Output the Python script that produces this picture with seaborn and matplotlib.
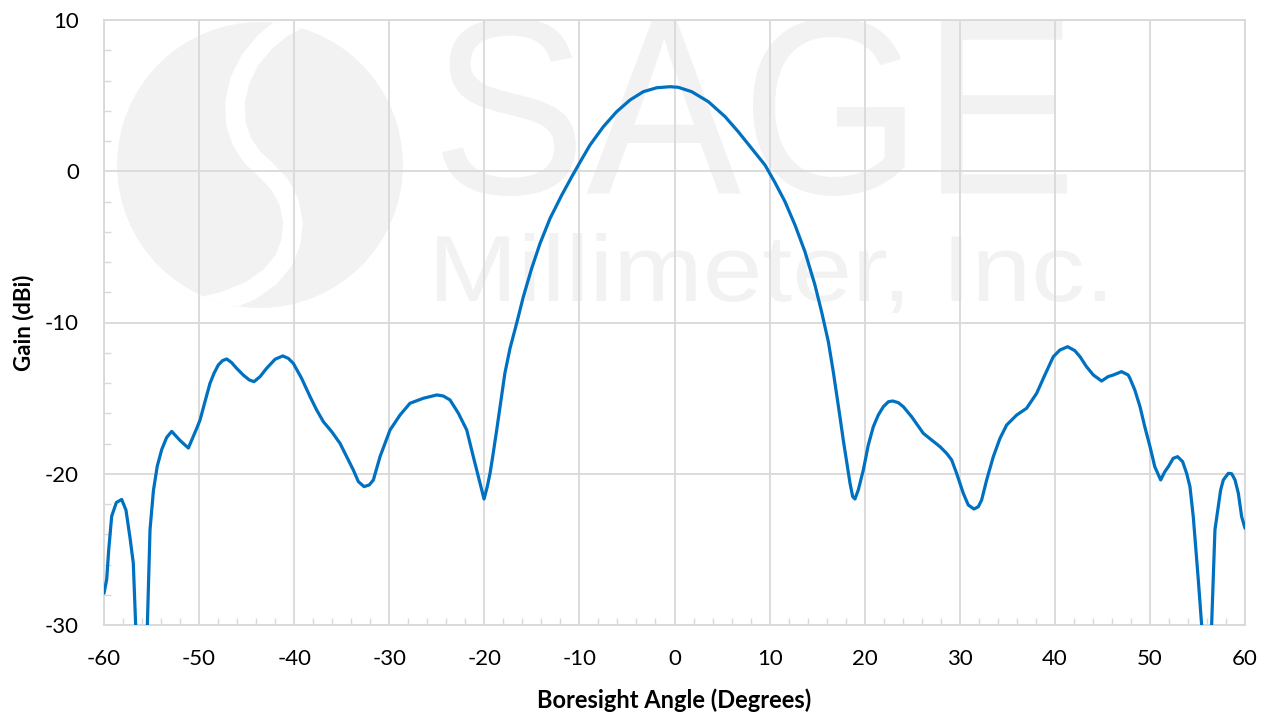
import numpy as np
import pandas as pd
import matplotlib
matplotlib.use("Agg")
import matplotlib.pyplot as plt
import seaborn as sns
import matplotlib.transforms as mtransforms
from matplotlib.patches import Circle, PathPatch
from matplotlib.textpath import TextPath
from matplotlib.font_manager import FontProperties
from matplotlib.ticker import MultipleLocator

# Radiation pattern (degrees, dBi)
angle = [-60.0, -59.72, -59.5, -59.19, -58.7, -58.14, -57.69, -57.27, -56.92, -56.67,
         -56.05, -55.44, -55.16, -54.8, -54.4, -53.93, -53.41, -52.88, -52.0, -51.13,
         -50.25, -49.9, -49.38, -48.85, -48.43, -47.98, -47.53, -47.1, -46.58, -46.05,
         -45.36, -44.72, -44.22, -43.59, -42.9, -42.01, -41.2, -40.62, -40.09, -39.22,
         -38.33, -37.63, -36.93, -36.05, -35.18, -34.48, -33.78, -33.25, -32.65, -32.1,
         -31.67, -30.97, -29.92, -28.87, -27.82, -26.42, -25.0, -24.31, -23.61, -22.73,
         -21.85, -21.16, -20.63, -20.03, -19.69, -19.4, -19.12, -18.7,
         -17.84, -17.3, -16.6, -15.9, -15.02, -14.14, -13.09, -11.86, -10.81, -10.01,
         -8.89, -7.49, -6.08, -4.68, -3.28, -1.87, -0.47, 0.4, 1.81, 3.56,
         5.32, 6.71, 8.12, 9.52, 10.57, 11.62, 12.67, 13.72, 14.77, 15.47,
         16.18, 16.7, 17.4, 17.75, 18.46, 18.74, 18.98, 19.33, 19.86, 20.38,
         20.91, 21.43, 21.96, 22.49, 22.95, 23.54, 24.07, 24.94, 26.17, 27.05,
         27.92, 28.62, 29.15, 29.67, 30.37, 30.9, 31.5, 31.95, 32.3, 32.83,
         33.53, 34.23, 34.93, 35.98, 37.03, 38.09, 38.95, 39.84, 40.53, 41.35,
         42.1, 42.65, 43.33, 44.05, 44.92, 45.6, 46.15, 47.02, 47.71, 47.9,
         48.41, 48.96, 49.46, 50.01, 50.51, 51.13, 51.57, 51.94, 52.45, 52.91,
         53.44, 53.86, 54.21, 54.56, 55.09, 55.44, 55.95, 56.49, 56.84, 57.44,
         57.72, 58.25, 58.6, 58.95, 59.3, 59.65, 60.0]
gain = [-27.9, -27.0, -25.0, -22.8, -21.9, -21.7, -22.4, -24.2, -25.9, -30.0,
        -42.0, -30.0, -23.7, -21.1, -19.5, -18.4, -17.6, -17.2, -17.8, -18.3,
        -17.0, -16.45, -15.23, -14.02, -13.36, -12.81, -12.52, -12.41, -12.65, -13.03,
        -13.47, -13.8, -13.91, -13.58, -13.03, -12.43, -12.21, -12.37, -12.7, -13.69,
        -14.9, -15.79, -16.56, -17.22, -17.99, -18.87, -19.75, -20.52, -20.85, -20.74,
        -20.41, -18.87, -17.11, -16.12, -15.34, -15.01, -14.79, -14.86, -15.12, -16.0,
        -17.11, -18.87, -20.19, -21.67, -20.85, -19.97, -18.87, -17.11,
        -13.36, -11.71, -10.05, -8.3, -6.42, -4.77, -3.12, -1.58, -0.37, 0.52,
        1.73, 2.94, 3.94, 4.71, 5.26, 5.52, 5.59, 5.55, 5.26, 4.6,
        3.61, 2.61, 1.51, 0.41, -0.75, -2.01, -3.55, -5.32, -7.52, -9.29,
        -11.27, -13.26, -16.23, -17.77, -20.63, -21.51, -21.67, -21.07, -19.75, -18.1,
        -16.89, -16.12, -15.57, -15.24, -15.19, -15.3, -15.57, -16.23, -17.33, -17.77,
        -18.21, -18.65, -19.09, -19.97, -21.29, -22.07, -22.33, -22.18, -21.74, -20.41,
        -18.87, -17.66, -16.78, -16.12, -15.67, -14.68, -13.47, -12.26, -11.82, -11.6,
        -11.86, -12.26, -12.92, -13.47, -13.87, -13.58, -13.47, -13.25, -13.47, -13.69,
        -14.46, -15.57, -16.89, -18.21, -19.53, -20.41, -19.86, -19.53, -18.98, -18.87,
        -19.2, -19.97, -20.85, -22.84, -27.03, -30.0, -42.0, -30.0, -23.7, -21.07,
        -20.41, -19.97, -20.0, -20.41, -21.29, -22.84, -23.6]

x_ticks = [-60, -50, -40, -30, -20, -10, 0, 10, 20, 30, 40, 50, 60]
y_ticks = [-30, -20, -10, 0, 10]

sns.set_theme(style="white")
plt.rcParams['font.family'] = ['Lato', 'DejaVu Sans']
plt.rcParams['axes.unicode_minus'] = False

W, H = 1268, 715
GRID = '#d9d9d9'
WM = '#f2f2f2'

fig = plt.figure(figsize=(W / 100, H / 100), dpi=100)
ax = fig.add_axes([104 / W, 1 - 625 / H, (1245 - 104) / W, (625 - 20) / H])

df = pd.DataFrame({'angle': angle, 'gain': gain})
sns.lineplot(data=df, x='angle', y='gain', ax=ax, color='#0070C0', lw=2.3,
             sort=False, zorder=3)
ax.lines[0].set_solid_joinstyle('round')

ax.set_xlim(-60, 60)
ax.set_ylim(-30, 10)
ax.set_xticks(x_ticks)
ax.set_yticks(y_ticks)
ax.xaxis.set_minor_locator(MultipleLocator(2))
ax.yaxis.set_minor_locator(MultipleLocator(2))
ax.grid(True, which='major', color=GRID, lw=1.3)
ax.set_axisbelow(True)
for s in ax.spines.values():
    s.set_color(GRID)
    s.set_linewidth(1.3)
ax.tick_params(which='major', length=0, labelsize=16, colors='black')
ax.tick_params(axis='x', which='major', pad=17)
ax.tick_params(axis='y', which='major', pad=18)
ax.tick_params(which='minor', direction='in', length=5, width=1, color=GRID,
               bottom=True, left=True)

ax.set_xlabel('Boresight Angle (Degrees)', fontsize=17, fontweight='bold',
              labelpad=14, color='black')
ax.set_ylabel('Gain (dBi)', fontsize=16, fontweight='bold', labelpad=8, color='black')

# faint company watermark behind the grid (image pixel boxes)
ident = mtransforms.IdentityTransform()


def add_word(text, box):
    x0, y0, x1, y1 = box
    tp = TextPath((0, 0), text, size=100, prop=FontProperties(family='Liberation Sans'))
    ext = tp.get_extents()
    tr = (mtransforms.Affine2D().translate(-ext.x0, -ext.y0)
          .scale((x1 - x0) / ext.width, (y1 - y0) / ext.height)
          .translate(x0, H - y1))
    ax.add_patch(PathPatch(tr.transform_path(tp), transform=ident, fc=WM, ec='none', zorder=0.2))


add_word('SAGE', (442, 18, 1067, 196))
add_word('Millimeter, Inc.', (437, 233, 1105, 313))

logo = Circle((260, H - 165), 143, transform=ident, fc=WM, ec='none', zorder=0.2)
ax.add_patch(logo)
sx = [300, 282, 265, 250, 240, 235, 236, 242, 252, 266, 280, 289, 293, 291, 284, 270, 250, 225, 198]
sy = [18, 28, 42, 60, 80, 102, 124, 142, 157, 170, 185, 202, 222, 242, 260, 277, 291, 301, 308]
s_line, = ax.plot(sx, [H - v for v in sy], transform=ident, color='white', lw=14,
                  solid_joinstyle='round', solid_capstyle='round', zorder=0.25)
s_line.set_clip_path(logo)

fig.savefig('out.png', dpi=100)
